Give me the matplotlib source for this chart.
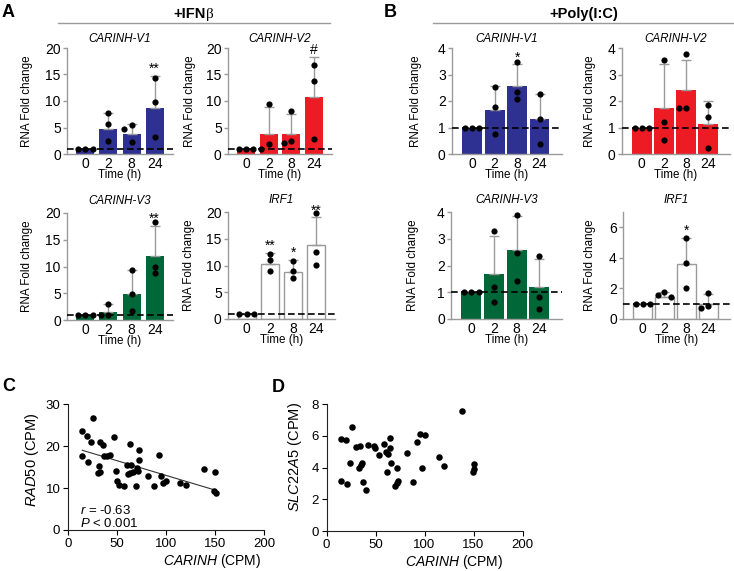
import matplotlib.pyplot as plt
import numpy as np

plt.rcParams['font.family'] = ['Liberation Sans', 'DejaVu Sans']
plt.rcParams['mathtext.fontset'] = 'custom'
plt.rcParams['mathtext.rm'] = 'Liberation Sans'
plt.rcParams['mathtext.it'] = 'Liberation Sans:italic'
plt.rcParams['mathtext.bf'] = 'Liberation Sans:bold'

W, H = 734, 571

times = ['0', '2', '8', '24']

# A: +IFNb  (bar = mean, sd = upper error bar, pts = replicates)
a_v1_mean = [1.0, 4.8, 3.8, 8.75]
a_v1_sd = [0, 2.9, 1.8, 5.95]
a_v1_pts = [[1, 1, 1], [7.7, 5.6, 2.5], [5.4, 4.8, 2.2], [14.25, 9.8, 3.3]]
a_v1_sig = ['', '', '', '**']

a_v2_mean = [1.0, 3.85, 3.85, 10.8]
a_v2_sd = [0, 4.95, 3.75, 7.5]
a_v2_pts = [[1, 1, 1], [9.5, 1.8, 1.0], [8.2, 2.4, 2.0], [16.8, 13.7, 2.9]]
a_v2_sig = ['', '', '', '#']

a_v3_mean = [1.0, 1.45, 4.9, 11.9]
a_v3_sd = [0, 1.45, 4.5, 5.7]
a_v3_pts = [[1, 1, 1], [3.0, 1.0, 1.0], [9.4, 4.9, 1.6], [18.4, 9.9, 8.7]]
a_v3_sig = ['', '', '', '**']

a_irf1_mean = [1.0, 10.3, 8.8, 13.8]
a_irf1_sd = [0, 2.0, 2.2, 5.2]
a_irf1_pts = [[1, 1, 1], [12.2, 11.1, 9.0], [10.9, 8.9, 7.6], [19.8, 12.6, 10.1]]
a_irf1_sig = ['', '**', '*', '**']

# B: +Poly(I:C)
b_v1_mean = [1.0, 1.67, 2.58, 1.32]
b_v1_sd = [0, 0.9, 0.8, 0.93]
b_v1_pts = [[1, 1, 1], [2.52, 1.77, 0.75], [3.46, 2.33, 2.07], [2.25, 1.32, 0.38]]
b_v1_sig = ['', '', '*', '']

b_v2_mean = [1.0, 1.75, 2.4, 1.13]
b_v2_sd = [0, 1.65, 1.16, 0.87]
b_v2_pts = [[1, 1, 1], [3.56, 1.22, 0.52], [3.78, 1.73, 1.75], [1.84, 1.41, 0.21]]
b_v2_sig = ['', '', '', '']

b_v3_mean = [1.0, 1.69, 2.58, 1.19]
b_v3_sd = [0, 1.41, 1.27, 1.06]
b_v3_pts = [[1, 1, 1], [3.29, 1.2, 0.62], [3.9, 2.45, 1.41], [2.37, 0.82, 0.37]]
b_v3_sig = ['', '', '', '']

b_irf1_mean = [1.0, 1.46, 3.59, 0.98]
b_irf1_sd = [0, 0.28, 1.71, 0.65]
b_irf1_pts = [[1, 1, 1], [1.74, 1.57, 1.46], [5.33, 3.67, 2.0], [1.72, 0.85, 0.7]]
b_irf1_sig = ['', '', '*', '']

# C: CARINH vs RAD50 (CPM)
c_carinh = [25.1, 14.6, 19.2, 23.7, 33.1, 35.9, 47.1, 14.6, 20.6, 36.6, 40.1, 42.9,
            31.7, 30.3, 33.1, 48.5, 49.9, 52.3, 57.6, 62.8, 72.9, 60.0, 64.5, 72.2,
            70.8, 61.0, 63.5, 66.3, 71.5, 69.8, 82.0, 87.5, 92.4, 94.9, 97.0, 100.1,
            114.4, 120.3, 138.5, 150.0, 149.3, 151.0]
c_rad50 = [26.7, 23.7, 22.5, 21.1, 20.9, 20.3, 22.3, 17.6, 16.3, 17.7, 17.7, 17.9,
           15.3, 13.6, 13.8, 14.0, 11.8, 10.8, 10.6, 20.5, 19.1, 15.5, 15.6, 16.7,
           14.9, 13.3, 13.6, 13.8, 14.1, 10.6, 12.8, 10.6, 17.8, 13.0, 11.2, 11.6,
           11.3, 10.7, 14.6, 13.9, 9.2, 8.8]

# D: CARINH vs SLC22A5 (CPM)
d_carinh = [138.5, 26.1, 15.0, 19.5, 30.6, 34.1, 42.8, 48.0, 49.8, 58.5, 64.7, 64.7,
            60.6, 62.7, 53.3, 82.1, 92.6, 95.0, 100.2, 24.4, 36.5, 34.8, 32.7, 66.1,
            72.4, 62.0, 97.5, 114.9, 120.4, 150.0, 150.7, 149.0, 15.0, 20.9, 36.9,
            40.0, 73.1, 71.7, 69.9, 88.1]
d_slc22a5 = [7.6, 6.57, 5.81, 5.77, 5.33, 5.37, 5.43, 5.37, 5.22, 5.52, 5.85, 5.22,
             5.01, 4.84, 4.8, 4.91, 5.64, 6.1, 6.06, 4.27, 4.29, 4.17, 4.0, 4.32,
             4.0, 3.7, 4.0, 4.65, 4.1, 4.23, 3.92, 3.7, 3.16, 2.95, 3.07, 2.61,
             3.16, 3.01, 2.86, 3.07]

blue = '#2E3192'
red = '#ED1C24'
green = '#006838'
grey = '#9a9a9a'


def rect(l, t, r, b):
    return [l / W, 1 - b / H, (r - l) / W, (b - t) / H]


def swarm(vals, span, step):
    # spread overlapping dots sideways, like the prism dot layout
    placed = []
    for v in vals:
        for dx in (0, -step, step, -2 * step, 2 * step):
            if all(abs(v - pv) > 0.05 * span or abs(dx - px) > step * 0.9 for pv, px in placed):
                break
        placed.append((v, dx))
    return [p[1] for p in placed]


fig = plt.figure(figsize=(7.34, 5.71), dpi=100)


def bar_panel(box, title, mean, sd, pts, sig, color, ylim, yticks, xlim, width, ylab, tpad):
    ax = fig.add_axes(rect(*box))
    x = np.arange(len(times))
    if color == 'white':
        ax.bar(x, mean, width, color='white', edgecolor=grey, lw=1, zorder=1)
    else:
        ax.bar(x, mean, width, color=color, lw=0, zorder=1)
    for xi, m, s in zip(x, mean, sd):
        if s > 0:
            ax.errorbar(xi, m, yerr=[[0], [s]], fmt='none', ecolor=grey,
                        elinewidth=1, capsize=3.5, capthick=1, zorder=2)
    ax.axhline(1, color='black', lw=1.2, dashes=(4, 2), zorder=3, clip_on=False)
    span = ylim[1] - ylim[0]
    for xi, vals in zip(x, pts):
        offs = swarm(vals, span, 0.32)
        ax.scatter(xi + np.array(offs), vals, s=20, color='black', lw=0,
                   zorder=4, clip_on=False)
    for xi, m, s, t in zip(x, mean, sd, sig):
        if t:
            ax.text(xi, m + s, t, ha='center', va='bottom', fontsize=10, clip_on=False)
    ax.set_xlim(xlim)
    ax.set_ylim(ylim)
    ax.set_yticks(yticks)
    ax.set_xticks(x)
    ax.set_xticklabels(times)
    ax.tick_params(axis='x', length=0, pad=2, labelsize=10)
    ax.tick_params(axis='y', length=3, color=grey, width=1, pad=1.5, labelsize=10)
    for sp in ['top', 'right']:
        ax.spines[sp].set_visible(False)
    for sp in ['left', 'bottom']:
        ax.spines[sp].set_color(grey)
        ax.spines[sp].set_linewidth(1)
    ax.set_xlabel('Time (h)', fontsize=8.4, labelpad=-1)
    ax.set_ylabel('RNA Fold change', fontsize=8.4)
    ax.yaxis.set_label_coords(-ylab / (box[2] - box[0]), 0.5)
    ax.set_title(title, fontstyle='italic', fontsize=8.4, pad=tpad)
    return ax


a_lim = dict(ylim=(0, 20), yticks=[0, 5, 10, 15, 20], xlim=(-0.8, 3.8), width=0.78)
b_lim = dict(ylim=(0, 4), yticks=[0, 1, 2, 3, 4], xlim=(-0.9, 4.0), width=0.88)

bar_panel((67, 48, 173, 154), 'CARINH-V1', a_v1_mean, a_v1_sd, a_v1_pts, a_v1_sig, blue, ylab=34, tpad=4, **a_lim)
bar_panel((228, 48, 332, 154), 'CARINH-V2', a_v2_mean, a_v2_sd, a_v2_pts, a_v2_sig, red, ylab=31.5, tpad=4, **a_lim)
bar_panel((67, 213, 173, 320), 'CARINH-V3', a_v3_mean, a_v3_sd, a_v3_pts, a_v3_sig, green, ylab=34, tpad=6.5, **a_lim)
bar_panel((228, 212, 335, 319), 'IRF1', a_irf1_mean, a_irf1_sd, a_irf1_pts, a_irf1_sig, 'white', ylab=33, tpad=6.5, **a_lim)

bar_panel((452, 48, 562, 154), 'CARINH-V1', b_v1_mean, b_v1_sd, b_v1_pts, b_v1_sig, blue, ylab=30, tpad=4, **b_lim)
bar_panel((622, 48, 730, 154), 'CARINH-V2', b_v2_mean, b_v2_sd, b_v2_pts, b_v2_sig, red, ylab=25.5, tpad=4, **b_lim)
bar_panel((451, 212, 562, 319), 'CARINH-V3', b_v3_mean, b_v3_sd, b_v3_pts, b_v3_sig, green, ylab=32, tpad=6.5, **b_lim)
bar_panel((623, 212, 730, 319), 'IRF1', b_irf1_mean, b_irf1_sd, b_irf1_pts, b_irf1_sig, 'white',
          ylab=26.5, tpad=6.5, ylim=(0, 7), yticks=[0, 2, 4, 6], xlim=(-0.9, 4.0), width=0.88)


def scatter_panel(box, xs, ys, ylim, yticks, ylabel, xlab_pos, ylab_pos):
    ax = fig.add_axes(rect(*box))
    ax.scatter(xs, ys, s=22, color='black', lw=0, clip_on=False, zorder=3)
    ax.set_xlim(0, 200)
    ax.set_ylim(ylim)
    ax.set_xticks([0, 50, 100, 150, 200])
    ax.set_yticks(yticks)
    ax.tick_params(length=3.5, width=0.8, labelsize=9.5, pad=2)
    for sp in ['top', 'right']:
        ax.spines[sp].set_visible(False)
    for sp in ['left', 'bottom']:
        ax.spines[sp].set_linewidth(0.8)
        ax.spines[sp].set_color('#222222')
    ax.set_xlabel(r'$CARINH$ (CPM)', fontsize=10)
    ax.set_ylabel(ylabel, fontsize=10.5)
    bw, bh = box[2] - box[0], box[3] - box[1]
    ax.xaxis.set_label_coords((xlab_pos[0] - box[0]) / bw, (box[3] - xlab_pos[1]) / bh)
    ax.yaxis.set_label_coords((ylab_pos[0] - box[0]) / bw, (box[3] - ylab_pos[1]) / bh)
    ax.xaxis.label.set_va('center')
    ax.yaxis.label.set_va('center')
    return ax


axc = scatter_panel((68, 404.3, 264, 530), c_carinh, c_rad50, (0, 30), [0, 10, 20, 30],
                    r'$\mathit{RAD50}$ (CPM)', (212, 561), (32, 460))
slope, icpt = np.polyfit(c_carinh, c_rad50, 1)
xx = np.array([min(c_carinh), max(c_carinh)])
axc.plot(xx, slope * xx + icpt, color='#333333', lw=0.8, zorder=2)
fig.text(80 / W, 1 - 514 / H, r'$r$ = -0.63', fontsize=9.5, va='baseline')
fig.text(80 / W, 1 - 527 / H, r'$P$ < 0.001', fontsize=9.5, va='baseline')

axd = scatter_panel((326.5, 404.3, 522.5, 531), d_carinh, d_slc22a5, (0, 8), [0, 2, 4, 6, 8],
                    r'$\mathit{SLC22A5}$ (CPM)', (454, 562), (295, 457))

# headers
t1 = fig.text(190 / W, 1 - 18 / H, '+IFN', fontsize=10.5, fontweight='bold',
              ha='center', va='baseline')
fig.add_artist(plt.Annotation('β', xy=(1, 0), xycoords=t1, fontsize=11,
                              family='Liberation Serif', ha='left', va='bottom'))
fig.text(583.5 / W, 1 - 18 / H, '+Poly(I:C)', fontsize=10.5, fontweight='bold',
         ha='center', va='baseline')
fig.add_artist(plt.Line2D([58 / W, 330 / W], [1 - 23 / H, 1 - 23 / H], color=grey, lw=1))
fig.add_artist(plt.Line2D([433 / W, 734 / W], [1 - 23 / H, 1 - 23 / H], color=grey, lw=1))

for lab, px, py in [('A', 2, 17), ('B', 384, 17), ('C', 2, 391), ('D', 272, 392)]:
    fig.text(px / W, 1 - py / H, lab, fontsize=13, fontweight='bold', va='baseline')

fig.savefig('out.png', dpi=100)
